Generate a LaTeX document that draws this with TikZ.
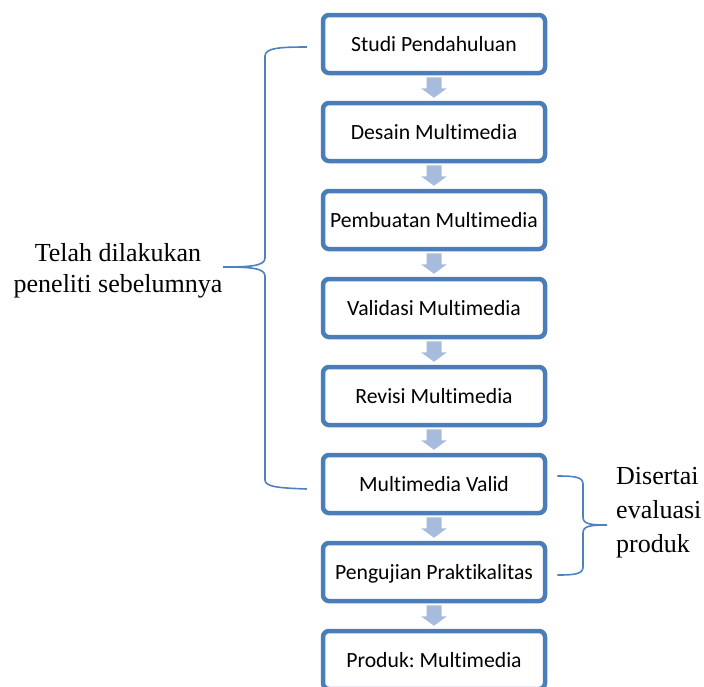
\documentclass[tikz,border=0pt]{standalone}
\usepackage{fontspec}
\setmainfont{Liberation Serif}
\newfontfamily\boxfont[Ligatures={NoCommon,NoRequired,NoContextual}]{Carlito}
\usetikzlibrary{calc,positioning}
\definecolor{boxblue}{HTML}{4A7EBB}
\definecolor{arrowblue}{HTML}{A7BBDC}
\definecolor{braceblue}{HTML}{4F81BD}
\frenchspacing

\begin{document}
\begin{tikzpicture}[x=1pt,y=1pt,
  stage/.style={draw=boxblue,line width=4.5pt,rounded corners=6pt,minimum width=222pt,minimum height=58pt,
    inner sep=0pt,text height=14.5pt,text depth=0pt,font=\boxfont\fontsize{21.7}{24}\selectfont},
  flow/.style={fill=arrowblue},
  bracket/.style={draw=braceblue,line width=1.6pt},
  remark/.style={inner sep=0pt,font=\fontsize{26}{31.5}\selectfont}]
\useasboundingbox (0,0) rectangle (704,-686);

\foreach \name/\txt [count=\i from 0] in {studi/Studi Pendahuluan, desain/Desain Multimedia,
    pembuatan/Pembuatan Multimedia, validasi/Validasi Multimedia, revisi/Revisi Multimedia,
    valid/Multimedia Valid, uji/Pengujian Praktikalitas, produk/Produk: Multimedia}
  \node[stage] (\name) at (434,{-44-88*\i}) {\txt};

% block arrows between the stages
\foreach \a/\b in {studi/desain, desain/pembuatan, pembuatan/validasi, validasi/revisi,
    revisi/valid, valid/uji, uji/produk}
  \fill[flow] ($(\a.south)+(-7.5,-2)$) -- ($(\a.south)+(-7.5,-13)$) -- ($(\a.south)+(-13,-13)$)
    -- ($(\b.north)+(0,3)$) -- ($(\a.south)+(13,-13)$) -- ($(\a.south)+(7.5,-13)$)
    -- ($(\a.south)+(7.5,-2)$) -- cycle;

\node[remark,align=center] (earlier) at (118,-271) {Telah dilakukan\\peneliti sebelumnya};
\node[remark,align=left,anchor=west,font=\fontsize{26}{34}\selectfont] (evaluasi) at (616,-513) {Disertai\\evaluasi\\produk};

% left bracket
\draw[bracket] ($(studi.west)+(-14,-3)$) .. controls (280,-47) and (265,-48) .. (265,-56)
  -- (265,-258) .. controls (265,-266) and (250,-267) .. (223,-267)
  .. controls (250,-267) and (265,-268) .. (265,-276)
  -- (265,-480) .. controls (265,-487) and (280,-488) .. ($(valid.west)+(-14,-5)$);
% right bracket
\draw[bracket] ($(valid.east)+(10,8)$) .. controls (575,-476) and (583,-477) .. (583,-484)
  -- (583,-517) .. controls (583,-524) and (590,-525) .. (607,-525)
  .. controls (590,-525) and (583,-526) .. (583,-533)
  -- (583,-567) .. controls (583,-574) and (575,-575) .. ($(uji.east)+(10,-3)$);
\end{tikzpicture}
\end{document}
